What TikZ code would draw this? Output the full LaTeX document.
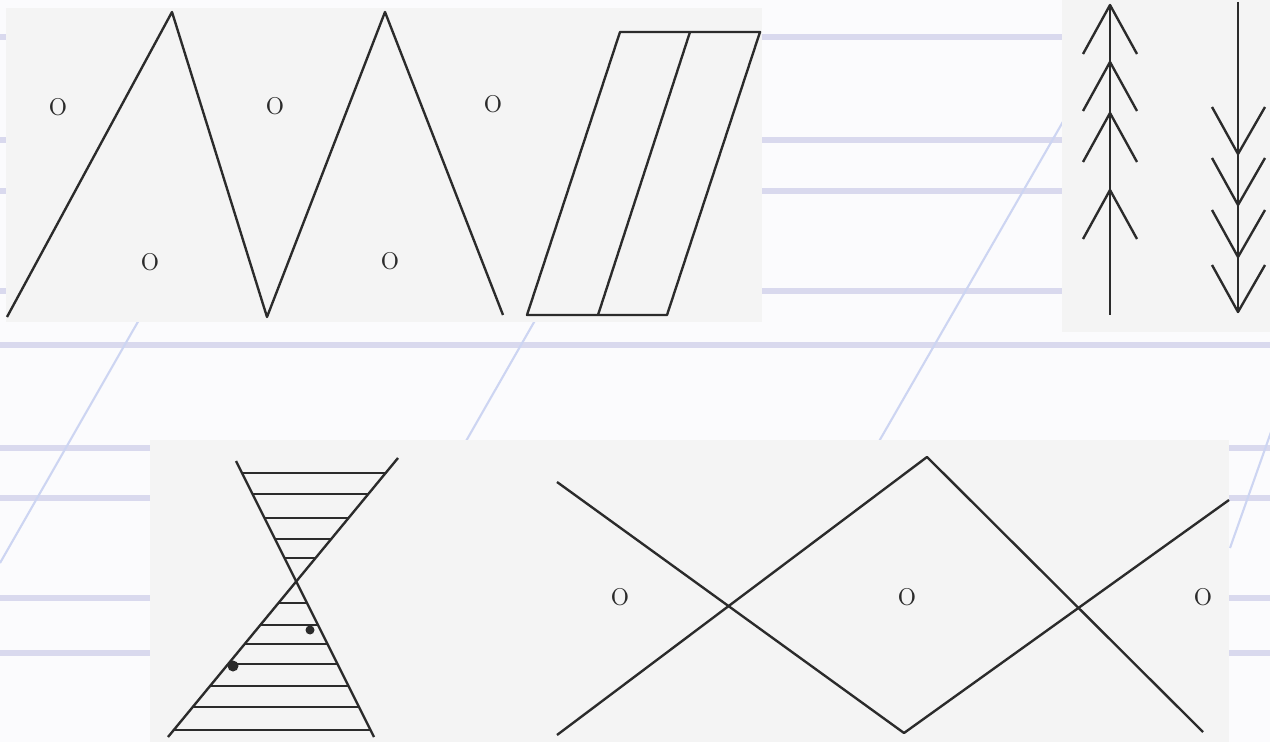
\documentclass[tikz,border=0pt]{standalone}
\definecolor{paper}{HTML}{FBFBFD}
\definecolor{scan}{HTML}{F4F4F4}
\definecolor{ruled}{HTML}{D9D9EE}
\definecolor{slant}{HTML}{CDD5F2}
\definecolor{ink}{HTML}{2B2B2B}
\tikzset{
  ink line/.style={draw=ink, line width=1.35pt, line join=round},
  mark o/.style={inner sep=0pt, text=ink, font=\fontsize{22}{22}\selectfont}
}
\begin{document}
\begin{tikzpicture}[x=0.02cm,y=-0.02cm]
\useasboundingbox (0,0) rectangle (1270,742);
\clip (0,0) rectangle (1270,742);
\fill[paper] (0,0) rectangle (1270,742);
\foreach \y in {37,140,191,291,345,448,498,598,653}
  \draw[ruled, line width=3.2pt] (0,\y)--(1270,\y);
\draw[slant, line width=1.2pt] (1133,0)--(706,742);
\draw[slant, line width=1.2pt] (179,250)--(0,563);
\draw[slant, line width=1.2pt] (581,240)--(294,742);
\draw[slant, line width=1.2pt] (1300,350)--(1230,548);

\fill[scan] (6,8) rectangle (762,322);
\fill[scan] (1062,0) rectangle (1270,332);
\fill[scan] (150,440) rectangle (1229,742);

\draw[ink line] (7,317)--(172,12)--(267,317)--(385,12)--(503,315);
\draw[ink line] (527,315)--(620,32)--(760,32)--(667,315)--cycle;
\draw[ink line] (690,32)--(598,315);
\node[mark o] (o1) at (58,107) {o};
\node[mark o] (o2) at (275,106) {o};
\node[mark o] (o3) at (493,104) {o};
\node[mark o] (o4) at (150,262) {o};
\node[mark o] (o5) at (390,261) {o};

\draw[ink line] (1110,315)--(1110,5);
\foreach \t in {5,62,113,190}
  \draw[ink line] (1083,{\t+49})--(1110,\t)--(1137,{\t+49});
\draw[ink line] (1238,2)--(1238,313);
\foreach \t in {154,205,257,312}
  \draw[ink line] (1212,{\t-47})--(1238,\t)--(1265,{\t-47});

\draw[ink line] (236,461)--(374,737);
\draw[ink line] (398,458)--(168,737);
\begin{scope}
\clip (236,461)--(398,458)--(296,582)--cycle (296,582)--(168,737)--(374,737)--cycle;
\foreach \y in {473,494,518,539,558,603,625,644,664,686,707,730}
  \draw[ink, line width=1.7pt] (150,\y)--(420,\y);
\end{scope}
\fill[ink] (310,630) circle (4.5);
\fill[ink] (233,666) circle (5.5);

\draw[ink line] (557,482)--(904,733)--(1229,500);
\draw[ink line] (557,735)--(927,457)--(1203,732);
\node[mark o] (o6) at (620,597) {o};
\node[mark o] (o7) at (907,597) {o};
\node[mark o] (o8) at (1203,597) {o};
\end{tikzpicture}
\end{document}
